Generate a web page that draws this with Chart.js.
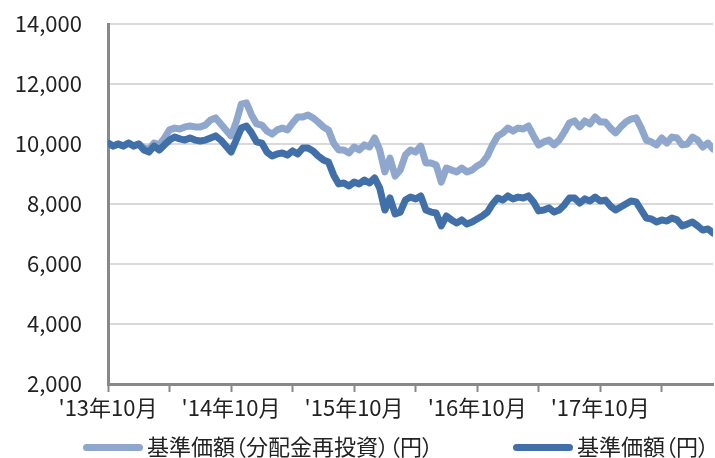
<!DOCTYPE html>
<html>
<head>
<meta charset="utf-8">
<script src="https://cdn.jsdelivr.net/npm/chart.js@4"></script>
<style>
  body { margin: 0; background: #fff; }
  #wrap { position: relative; width: 715px; height: 458px; }
  .leg { position: absolute; top: 432px; font: 22px "Noto Sans CJK JP", sans-serif; color: #222;
         font-feature-settings: "palt"; white-space: nowrap; line-height: 26px; }
  .leg i { display: inline-block; width: 60px; height: 7px; border-radius: 4px; vertical-align: middle; margin-right: 4px; position: relative; top: -2px; }
</style>
</head>
<body>
<div id="wrap">
  <canvas id="c" width="715" height="458"></canvas>
  <div class="leg" style="left:83px"><i style="background:#8FA7CC"></i>基準価額（分配金再投資）（円）</div>
  <div class="leg" style="left:513px"><i style="background:#4170A8"></i>基準価額（円）</div>
</div>
<script>
// x tick labels, one per October
const xLabels = ["'13年10月", "'14年10月", "'15年10月", "'16年10月", "'17年10月"];

// half-month readings, Oct 2013 .. Sep 2018
const navReinvest = [
  10030, 9930, 10000, 9930, 10030, 9930, 10000, 9870, 9830, 10030,
  9970, 10200, 10470, 10530, 10500, 10570, 10600, 10570, 10570, 10630,
  10800, 10870, 10670, 10470, 10270, 10730, 11330, 11370, 10970, 10670,
  10630, 10430, 10330, 10470, 10530, 10470, 10700, 10900, 10900, 10970,
  10870, 10730, 10570, 10470, 10030, 9800, 9800, 9700, 9900, 9800,
  9970, 9900, 10200, 9800, 9070, 9530, 8930, 9130, 9630, 9800,
  9730, 9930, 9370, 9370, 9300, 8730, 9200, 9130, 9070, 9200,
  9070, 9130, 9270, 9370, 9600, 9970, 10270, 10370, 10530, 10430,
  10530, 10500, 10600, 10270, 9970, 10070, 10130, 9970, 10130, 10400,
  10700, 10770, 10570, 10770, 10670, 10900, 10730, 10730, 10530, 10370,
  10570, 10730, 10830, 10870, 10530, 10130, 10070, 9970, 10200, 10030,
  10230, 10200, 9970, 10000, 10230, 10130, 9900, 10030, 9830
];
const nav = [
  10030, 9930, 10000, 9930, 10030, 9930, 10000, 9800, 9730, 9930,
  9800, 9970, 10130, 10230, 10170, 10130, 10200, 10130, 10100, 10130,
  10200, 10270, 10130, 9930, 9730, 10130, 10530, 10600, 10370, 10070,
  10030, 9730, 9600, 9670, 9700, 9630, 9770, 9670, 9870, 9870,
  9770, 9600, 9470, 9400, 8970, 8670, 8700, 8600, 8730, 8670,
  8800, 8700, 8870, 8530, 7800, 8200, 7670, 7730, 8130, 8230,
  8170, 8270, 7800, 7730, 7700, 7270, 7600, 7470, 7370, 7470,
  7330, 7400, 7500, 7600, 7730, 8000, 8200, 8130, 8270, 8170,
  8230, 8200, 8270, 8070, 7770, 7800, 7870, 7730, 7800, 7970,
  8200, 8200, 8030, 8170, 8100, 8230, 8100, 8130, 7930, 7800,
  7900, 8000, 8100, 8070, 7800, 7530, 7500, 7400, 7470, 7430,
  7530, 7470, 7270, 7330, 7400, 7270, 7130, 7170, 7030
];

const yTicks = [2000, 4000, 6000, 8000, 10000, 12000, 14000];

// months since Oct 2013, two readings a month
const pts = arr => arr.map((v, i) => ({ x: i / 2, y: v }));

const font = { family: '"Noto Sans CJK JP", sans-serif', size: 22 };

new Chart(document.getElementById('c'), {
    type: 'line',
    data: {
        datasets: [
            { label: '基準価額（円）', data: pts(nav), borderColor: '#4170A8',
              borderWidth: 7, pointRadius: 0, tension: 0, borderJoinStyle: 'round', borderCapStyle: 'round' },
            { label: '基準価額（分配金再投資）（円）', data: pts(navReinvest), borderColor: '#8FA7CC',
              borderWidth: 7, pointRadius: 0, tension: 0, borderJoinStyle: 'round', borderCapStyle: 'round' }
        ]
    },
    options: {
        responsive: false,
        animation: false,
        layout: { padding: { top: 24, right: 2, left: 0, bottom: 0 } },
        plugins: { legend: { display: false }, tooltip: { enabled: false } },
        scales: {
            x: {
                type: 'linear', min: 0, max: 59,
                afterFit: s => { s.height = 74; },
                border: { color: '#888', width: 3 },
                grid: { drawOnChartArea: false, drawTicks: true, tickLength: 8, color: '#888', tickWidth: 2 },
                ticks: {
                    stepSize: 6, includeBounds: false, autoSkip: false, maxRotation: 0,
                    color: '#222', font: font, padding: 2,
                    callback: v => (v % 12 === 0 ? xLabels[v / 12] : '')
                }
            },
            y: {
                min: 2000, max: 14000,
                afterFit: s => { s.width = 108; },
                afterBuildTicks: s => { s.ticks = yTicks.map(v => ({ value: v })); },
                border: { color: '#888', width: 3 },
                // invisible tick marks keep the labels off the axis
                grid: { color: '#d9d9d9', lineWidth: 2, drawTicks: true, tickLength: 26, tickColor: 'rgba(0,0,0,0)' },
                ticks: { color: '#222', font: font, padding: 0,
                         callback: v => v.toLocaleString('en-US') }
            }
        }
    }
});
</script>
</body>
</html>
